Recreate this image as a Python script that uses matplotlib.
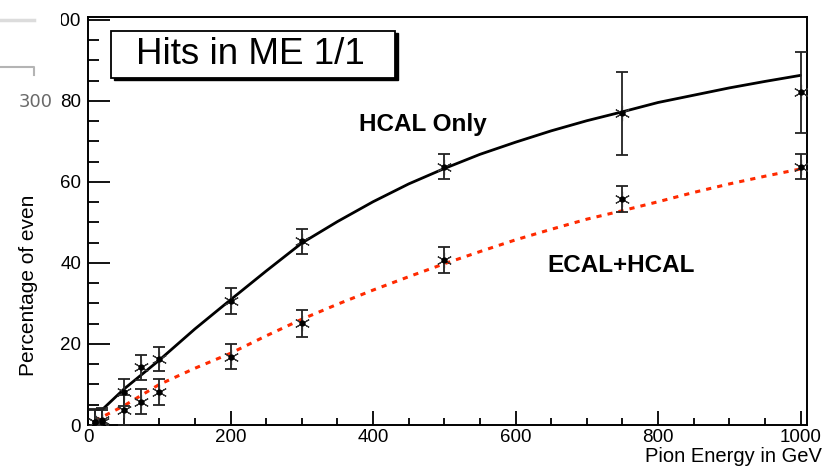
import matplotlib
matplotlib.use("Agg")
import matplotlib.pyplot as plt
from matplotlib.patches import Rectangle
from matplotlib.lines import Line2D

# ---- data ----
energy = [10, 20, 50, 75, 100, 200, 300, 500, 750, 1000]
hcal_only = [0.8, 1.2, 8.1, 14.2, 16.3, 30.7, 45.3, 63.8, 76.9, 82.1]
hcal_only_err = [3.1, 3.0, 3.3, 3.2, 3.0, 3.2, 3.0, 3.0, 10.3, 10.0]
ecal_hcal = [0.8, 0.8, 3.7, 5.8, 8.2, 16.9, 25.1, 40.7, 55.7, 63.8]
ecal_hcal_err = [3.0, 3.0, 3.7, 3.2, 3.2, 3.2, 3.3, 3.2, 3.2, 3.1]

# fitted curves
fit_hcal_x = [20, 50, 100, 150, 200, 250, 300, 350, 400, 450, 500, 550, 600,
              650, 700, 750, 800, 850, 900, 950, 1000]
fit_hcal_y = [3.8, 8.8, 16.0, 23.7, 30.9, 38.0, 44.9, 50.2, 55.1, 59.5, 63.3,
              66.8, 69.8, 72.6, 75.1, 77.3, 79.6, 81.4, 83.2, 84.8, 86.3]
fit_ecal_x = [10, 50, 100, 150, 200, 250, 300, 350, 400, 450, 500, 550, 600,
              650, 700, 750, 800, 850, 900, 950, 1000]
fit_ecal_y = [1.1, 4.7, 10.0, 14.0, 17.7, 22.0, 26.1, 29.8, 33.3, 36.6, 39.8,
              42.8, 45.7, 48.3, 50.8, 52.9, 55.1, 57.4, 59.5, 61.4, 63.2]

x_ticks = [0, 200, 400, 600, 800, 1000]
x_tick_labels = ["0", "200", "400", "600", "800", "1000"]
y_ticks = [0, 20, 40, 60, 80, 100]
y_tick_labels = ["0", "20", "40", "60", "80", "100"]

FONT = "Liberation Sans"
W, H = 832, 469
fig = plt.figure(figsize=(W / 100, H / 100), dpi=100)
ax = fig.add_axes([88 / W, 1 - 425 / H, (807 - 88) / W, (425 - 17) / H])

ax.set_xlim(0, 1009)
ax.set_ylim(0, 100.7)

ax.plot(fit_hcal_x, fit_hcal_y, color="black", lw=2.0, solid_capstyle="round", zorder=3)
ax.plot(fit_ecal_x, fit_ecal_y, color="#ff2a00", lw=2.2, dashes=[1.7, 2.0], zorder=3)

star = (6, 2, 0)
for vals, errs in ((hcal_only, hcal_only_err), (ecal_hcal, ecal_hcal_err)):
    ax.errorbar(energy, vals, yerr=errs, fmt="none", ecolor="#222222",
                elinewidth=1.3, capsize=4, capthick=1.3, zorder=4)
    ax.plot(energy, vals, linestyle="none", marker=star, markersize=11,
            markeredgewidth=0.8, color="#333333", zorder=5)
    ax.plot(energy, vals, linestyle="none", marker="o", markersize=3.5,
            color="black", zorder=6)

ax.set_xticks(x_ticks)
ax.set_xticklabels(x_tick_labels)
ax.set_yticks(y_ticks)
ax.set_yticklabels(y_tick_labels)
ax.set_xticks(range(0, 1001, 50), minor=True)
ax.set_yticks(range(0, 101, 5), minor=True)
ax.tick_params(axis="both", which="major", direction="in", width=1.3, colors="black",
               labelsize=13.5)
ax.tick_params(axis="y", which="major", length=16, pad=5)
ax.tick_params(axis="x", which="major", length=10, pad=3)
ax.tick_params(axis="y", which="minor", direction="in", length=8, width=1.3)
ax.tick_params(axis="x", which="minor", direction="in", length=5, width=1.3)
for lab in ax.get_xticklabels() + ax.get_yticklabels():
    lab.set_fontfamily(FONT)
for s in ax.spines.values():
    s.set_linewidth(1.4)

# axis titles
fig.text(822 / W, 1 - 456 / H, "Pion Energy in GeV", ha="right", va="center",
         fontsize=14.5, family=FONT)
fig.text(29 / W, 1 - 285 / H, "Percentage of even", ha="center", va="center",
         rotation=90, fontsize=15, family=FONT)

# title box with shadow
ax.add_patch(Rectangle((114 / W, 1 - 80 / H), (395 - 111) / W, (78 - 31) / H,
                       transform=fig.transFigure, facecolor="black",
                       edgecolor="black", lw=1, zorder=7, clip_on=False))
ax.add_patch(Rectangle((111 / W, 1 - 78 / H), (395 - 111) / W, (78 - 31) / H,
                       transform=fig.transFigure, facecolor="white",
                       edgecolor="black", lw=1.3, zorder=8, clip_on=False))
fig.text(250 / W, 1 - 54 / H, "Hits in ME 1/1", ha="center", va="center",
         fontsize=26.5, family=FONT, zorder=9)

fig.text(423 / W, 1 - 124 / H, "HCAL Only", ha="center", va="center",
         fontsize=17.5, fontweight="bold", family=FONT)
fig.text(621 / W, 1 - 265 / H, "ECAL+HCAL", ha="center", va="center",
         fontsize=17.5, fontweight="bold", family=FONT)

# top-left screenshot artifact (covers the left part of the top tick labels)
fig.patches.append(Rectangle((0, 1 - 116 / H), 61 / W, 116 / H,
                             transform=fig.transFigure, facecolor="white",
                             edgecolor="none", zorder=20))
fig.lines.append(Line2D([0, 34 / W], [1 - 20 / H, 1 - 20 / H],
                        transform=fig.transFigure, color="#dcdcdc", lw=2.5, zorder=21))
fig.lines.append(Line2D([0, 34 / W, 34 / W], [1 - 67 / H, 1 - 67 / H, 1 - 75 / H],
                        transform=fig.transFigure, color="#b4b4b4", lw=1.5, zorder=21))
fig.text(53 / W, 1 - 102 / H, "300", ha="right", va="center", fontsize=13,
         family="DejaVu Sans", color="#6a6a6a", zorder=22)

fig.savefig("out.png", dpi=100)
